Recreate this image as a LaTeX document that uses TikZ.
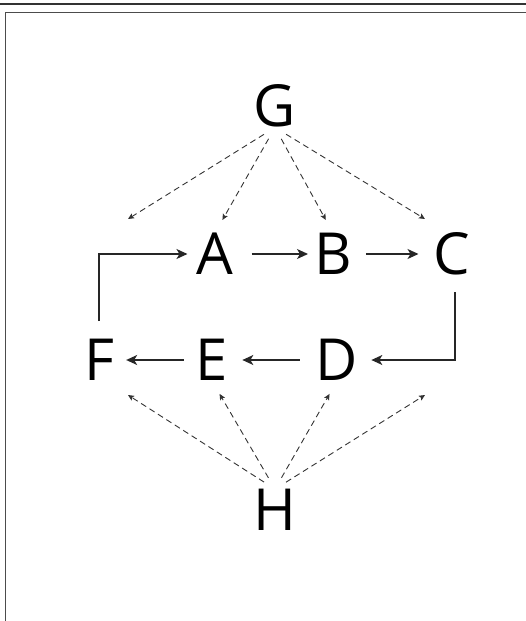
\documentclass[tikz,border=0pt]{standalone}
\usepackage{fontspec}
\setmainfont{Open Sans}
\usetikzlibrary{arrows.meta,calc}

\begin{document}
\begin{tikzpicture}[x=1pt,y=-1pt,
  every node/.style={align=center,inner sep=0pt,font=\fontsize{58}{60}\selectfont},
  flow/.style={line width=1.4pt,black!85,-{Stealth[length=11pt,width=10pt,inset=3pt]}},
  dep/.style={line width=0.9pt,black!80,dash pattern=on 6pt off 4pt,shorten <=13pt,
    -{Stealth[length=6pt,width=5.5pt,inset=1.2pt]}}]
  \useasboundingbox (0,0) rectangle (526,621);
  % frame
  \draw[line width=2pt,black!80] (0,3.5) -- (526,3.5);
  \draw[line width=1pt,black!70] (526,12) -- (5.5,12) -- (5.5,621);
  % letters
  \node (G) at (275,106) {G};
  \node (A) at (215,254) {A};
  \node (B) at (333,254) {B};
  \node (C) at (452,254) {C};
  \node (F) at (99,360) {F};
  \node (E) at (212,360) {E};
  \node (D) at (337,360) {D};
  \node (H) at (275,510) {H};
  \coordinate (gl) at (128,219);
  \coordinate (gr) at (425,219);
  \coordinate (hl) at (128,395);
  \coordinate (hr) at (425,395);
  % cycle
  \draw[flow,shorten <=18pt,shorten >=9pt] (F.north) |- (A.west);
  \draw[flow,shorten <=18pt,shorten >=6pt] (A.east) -- (B.west);
  \draw[flow,shorten <=14pt,shorten >=15pt] (B.east) -- (C.west);
  \draw[flow,shorten <=17pt,shorten >=13pt] ([xshift=3pt]C.south) |- (D.east);
  \draw[flow,shorten <=16pt,shorten >=14pt] (D.west) -- (E.east);
  \draw[flow,shorten <=12pt,shorten >=12pt] (E.west) -- (F.east);
  % dashed
  \draw[dep] (G.south) -- (gl);
  \draw[dep,shorten >=15pt] (G.south) -- (A.north);
  \draw[dep,shorten >=15pt] (G.south) -- (B.north);
  \draw[dep] (G.south) -- (gr);
  \draw[dep] (H.north) -- (hl);
  \draw[dep,shorten >=15pt] (H.north) -- (E.south);
  \draw[dep,shorten >=15pt] (H.north) -- (D.south);
  \draw[dep] (H.north) -- (hr);
\end{tikzpicture}
\end{document}
